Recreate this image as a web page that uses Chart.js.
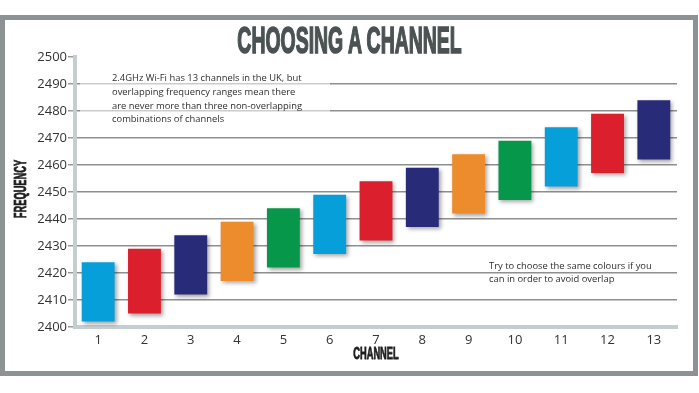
<!DOCTYPE html>
<html>
<head>
<meta charset="utf-8">
<script src="https://cdn.jsdelivr.net/npm/chart.js@4/dist/chart.umd.min.js"></script>
<style>
  html, body { margin: 0; padding: 0; background: #fff; }
  #wrap { position: relative; width: 699px; height: 393px; overflow: hidden; }
  #frame { position: absolute; left: 0; top: 15px; width: 698px; height: 361px; box-sizing: border-box; border: 5px solid #8d9395; }
  #title { position: absolute; left: 0; width: 699px; top: 22px; margin: 0; text-align: center;
    font-family: "Liberation Sans", Arial, sans-serif; font-weight: bold;
    font-size: 36px; color: #4b5254; transform: scaleX(0.54); line-height: 38px;
    -webkit-text-stroke: 1.6px #4b5254; }
  #c { position: absolute; left: 0; top: 0; }
</style>
</head>
<body>
<div id="wrap">
  <div id="frame"></div>
  <canvas id="c" width="699" height="393"></canvas>
  <h1 id="title">CHOOSING A CHANNEL</h1>
</div>
<script>
// canais e faixas de frequência (MHz)
const canais = ['1', '2', '3', '4', '5', '6', '7', '8', '9', '10', '11', '12', '13'];
const freqMin = [2402, 2405, 2412, 2417, 2422, 2427, 2432, 2437, 2442, 2447, 2452, 2457, 2462];
const freqMax = [2424, 2429, 2434, 2439, 2444, 2449, 2454, 2459, 2464, 2469, 2474, 2479, 2484];
const cores = ['#079fda', '#dc1f2c', '#282b78', '#ec8c2c', '#07974a'];
const nota1 = ['2.4GHz Wi-Fi has 13 channels in the UK, but', 'overlapping frequency ranges mean there',
  'are never more than three non-overlapping', 'combinations of channels'];
const nota2 = ['Try to choose the same colours if you', 'can in order to avoid overlap'];

const faixas = canais.map((c, i) => [freqMin[i], freqMax[i]]);

// sombra nas barras
const sombra = {
  id: 'sombra',
  beforeDatasetDraw(chart) {
    const ctx = chart.ctx;
    ctx.save();
    ctx.shadowColor = 'rgba(0,0,0,0.35)';
    ctx.shadowBlur = 4;
    ctx.shadowOffsetX = 2;
    ctx.shadowOffsetY = 2;
  },
  afterDatasetDraw(chart) {
    chart.ctx.restore();
  }
};

// textos explicativos + títulos dos eixos (fonte condensada)
const notas = {
  id: 'notas',
  afterDatasetsDraw(chart) {
    const ctx = chart.ctx;
    const y = chart.scales.y;
    const area = chart.chartArea;
    ctx.save();
    ctx.fillStyle = 'rgba(255,255,255,0.55)';
    ctx.fillRect(80, y.getPixelForValue(2495), 250, 56);
    ctx.fillStyle = '#2e2e2e';
    ctx.font = '9.4px "Open Sans", sans-serif';
    ctx.textBaseline = 'middle';
    nota1.forEach((t, i) => ctx.fillText(t, 112, y.getPixelForValue(2492) + i * 13.7));
    nota2.forEach((t, i) => ctx.fillText(t, 489, y.getPixelForValue(2422.5) + i * 13.5));

    ctx.fillStyle = '#1e1e1e';
    ctx.strokeStyle = '#1e1e1e';
    ctx.lineWidth = 0.8;
    ctx.font = 'bold 16px "Liberation Sans", Arial, sans-serif';
    ctx.textAlign = 'center';
    ctx.save();
    ctx.translate((area.left + area.right) / 2, 355);
    ctx.scale(0.58, 1);
    ctx.fillText('CHANNEL', 0, 0);
    ctx.strokeText('CHANNEL', 0, 0);
    ctx.restore();
    ctx.save();
    ctx.translate(22, 189);
    ctx.rotate(-Math.PI / 2);
    ctx.scale(0.58, 1);
    ctx.fillText('FREQUENCY', 0, 0);
    ctx.strokeText('FREQUENCY', 0, 0);
    ctx.restore();
    ctx.restore();
  }
};

new Chart(document.getElementById('c'), {
  type: 'bar',
  data: {
    labels: canais,
    datasets: [{
      data: faixas,
      backgroundColor: canais.map((c, i) => cores[i % 5]),
      borderWidth: 0,
      barPercentage: 0.71,
      categoryPercentage: 1
    }]
  },
  options: {
    responsive: false,
    animation: false,
    layout: { padding: { left: 0, top: 57, right: 22, bottom: 0 } },
    plugins: { legend: { display: false }, tooltip: { enabled: false } },
    scales: {
      x: {
        grid: { display: false, drawTicks: false },
        border: { color: '#c3ced1', width: 4 },
        ticks: { color: '#333', font: { family: 'Open Sans', size: 13 }, padding: 5 },
        afterFit(s) { s.height = 66; }
      },
      y: {
        min: 2400, max: 2500,
        ticks: { stepSize: 10, color: '#333', font: { family: 'Open Sans', size: 13 }, padding: 1,
          callback: v => String(v) },
        grid: {
          color: ctx => ctx.tick && ctx.tick.value === 2500 ? 'rgba(0,0,0,0)' : '#8f8f8f',
          tickColor: '#9a9a9a', tickLength: 7, lineWidth: 1.5
        },
        border: { color: '#c3ced1', width: 4 },
        afterFit(s) { s.width = 75; }
      }
    }
  },
  plugins: [sombra, notas]
});
</script>
</body>
</html>
